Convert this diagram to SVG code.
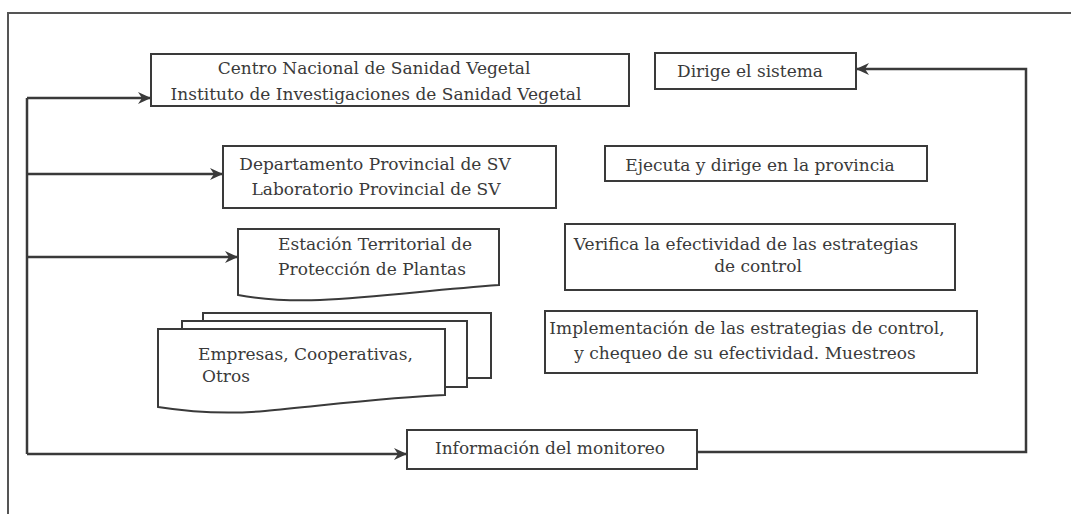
<svg xmlns="http://www.w3.org/2000/svg" width="1071" height="514" viewBox="0 0 1071 514">
<defs>
<style>
.box{fill:#fff;stroke:#3a3a3a;stroke-width:2}
.con{fill:none;stroke:#3a3a3a;stroke-width:2.5}
.t{font-family:"DejaVu Serif","Liberation Serif",serif;font-size:17px;fill:#3a3a3a}
.c{text-anchor:middle}
</style>
<marker id="ah" markerUnits="userSpaceOnUse" markerWidth="14" markerHeight="12" refX="12" refY="6" orient="auto">
<path d="M0,0 L13,6 L0,12 L4,6 Z" fill="#3a3a3a"/>
</marker>
</defs>
<rect width="1071" height="514" fill="#fff"/>
<g id="frame">
<path d="M1071,13 H8 V514" fill="none" stroke="#555" stroke-width="2"/>
</g>
<g id="connectors">
<path class="con" d="M27,98 V454"/>
<path class="con" d="M27,98 H150" marker-end="url(#ah)"/>
<path class="con" d="M27,174 H222" marker-end="url(#ah)"/>
<path class="con" d="M27,257 H237" marker-end="url(#ah)"/>
<path class="con" d="M27,454 H406" marker-end="url(#ah)"/>
<path class="con" d="M697,452 H1026 V69 H857" marker-end="url(#ah)"/>
</g>
<g id="n-centro">
<rect class="box" x="151" y="54" width="478" height="52"/>
<text class="t c" x="374" y="74">Centro Nacional de Sanidad Vegetal</text>
<text class="t c" x="376" y="100">Instituto de Investigaciones de Sanidad Vegetal</text>
</g>
<g id="n-dirige">
<rect class="box" x="655" y="53" width="201" height="36"/>
<text class="t c" x="750" y="77">Dirige el sistema</text>
</g>
<g id="n-departamento">
<rect class="box" x="223" y="146" width="333" height="62"/>
<text class="t c" x="375" y="170">Departamento Provincial de SV</text>
<text class="t c" x="376" y="195">Laboratorio Provincial de SV</text>
</g>
<g id="n-ejecuta">
<rect class="box" x="605" y="146" width="322" height="35"/>
<text class="t c" x="760" y="171">Ejecuta y dirige en la provincia</text>
</g>
<g id="n-estacion">
<path class="box" d="M238,229 H499 V285 C430,290 380,297 320,300 C290,301 260,299 238,295 Z"/>
<text class="t c" x="375" y="250">Estación Territorial de</text>
<text class="t c" x="372" y="275">Protección de Plantas</text>
</g>
<g id="n-verifica">
<rect class="box" x="565" y="224" width="390" height="66"/>
<text class="t c" x="746" y="250">Verifica la efectividad de las estrategias</text>
<text class="t c" x="758" y="272">de control</text>
</g>
<g id="n-empresas">
<rect class="box" x="203" y="313" width="288" height="65"/>
<rect class="box" x="182" y="321" width="285" height="66"/>
<path class="box" d="M158,329 H445 V395 C390,397 320,406 265,411 C230,414 190,412 158,407 Z"/>
<text class="t" x="198" y="360">Empresas, Cooperativas,</text>
<text class="t" x="202" y="382">Otros</text>
</g>
<g id="n-implementacion">
<rect class="box" x="545" y="311" width="432" height="62"/>
<text class="t c" x="747" y="334">Implementación de las estrategias de control,</text>
<text class="t c" x="745" y="359">y chequeo de su efectividad. Muestreos</text>
</g>
<g id="n-informacion">
<rect class="box" x="407" y="430" width="290" height="39"/>
<text class="t c" x="550" y="454">Información del monitoreo</text>
</g>
</svg>
